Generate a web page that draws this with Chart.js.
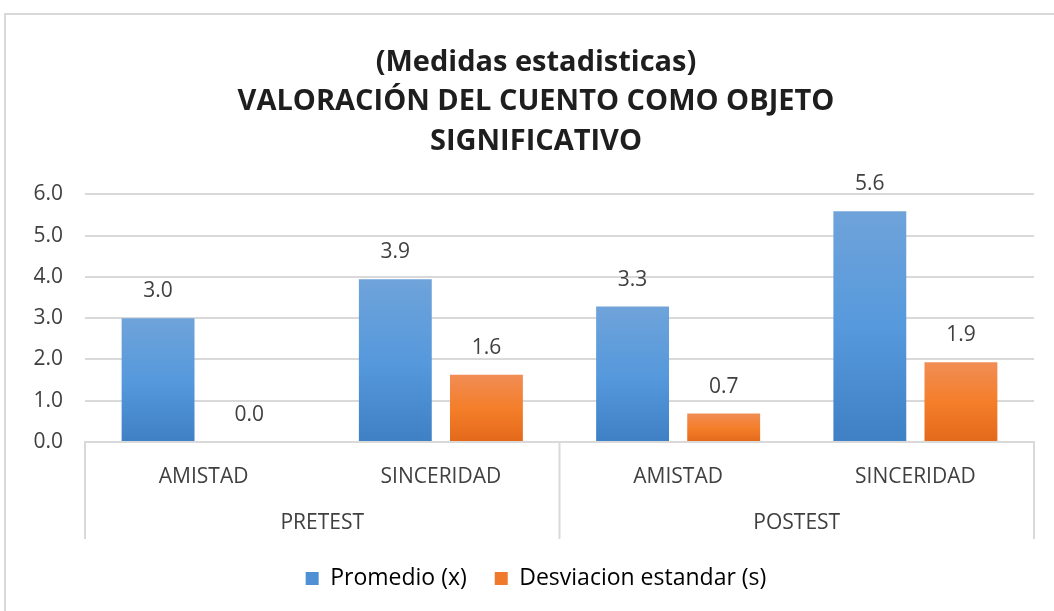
<!DOCTYPE html>
<html>
<head>
<meta charset="utf-8">
<script src="https://cdn.jsdelivr.net/npm/chart.js@4.4.1/dist/chart.umd.min.js"></script>
<style>
    html, body { margin: 0; padding: 0; background: #ffffff; overflow: hidden; }
    #frame {
        position: absolute; left: 4px; top: 13px;
        width: 1062px; height: 640px;
        border: 2px solid #d9d9d9;
    }
    #box { position: absolute; left: 0; top: 0; width: 1060px; height: 596px; }
</style>
</head>
<body>
<div id="frame"><div id="box"><canvas id="statsChart"></canvas></div></div>
<script>
// Chart data
const categories = ['AMISTAD', 'SINCERIDAD', 'AMISTAD', 'SINCERIDAD'];
const groups = ['PRETEST', 'POSTEST'];
const promedio = [3.0, 3.94, 3.28, 5.59];
const desviacion = [0.0, 1.63, 0.69, 1.93];
const yTicks = [0, 1, 2, 3, 4, 5, 6];

const FONT = "'Open Sans', sans-serif";
const TEXT = '#404040';
const LINE = '#d9d9d9';
const SIZE = 21;

/**
 * Per-bar vertical gradient, Excel style
 */
function barGradient(top, mid, bottom) {
    return function(context) {
        const chart = context.chart;
        if (!chart.chartArea || context.parsed == null) return mid;
        const y = chart.scales.y;
        const y0 = y.getPixelForValue(0);
        const y1 = y.getPixelForValue(context.parsed.y);
        if (Math.abs(y0 - y1) < 1) return mid;
        const g = chart.ctx.createLinearGradient(0, y1, 0, y0);
        g.addColorStop(0, top);
        g.addColorStop(0.5, mid);
        g.addColorStop(1, bottom);
        return g;
    };
}

/**
 * Value labels above bars
 */
const valueLabels = {
    id: 'valueLabels',
    afterDatasetsDraw(chart) {
        const ctx = chart.ctx;
        ctx.save();
        ctx.font = SIZE + 'px ' + FONT;
        ctx.fillStyle = TEXT;
        ctx.textAlign = 'center';
        ctx.textBaseline = 'middle';
        chart.data.datasets.forEach((ds, i) => {
            chart.getDatasetMeta(i).data.forEach((bar, j) => {
                ctx.fillText(ds.data[j].toFixed(1), bar.x, bar.y - 27);
            });
        });
        ctx.restore();
    }
};

/**
 * Second level of the category axis (PRETEST / POSTEST)
 */
const groupAxis = {
    id: 'groupAxis',
    afterDraw(chart) {
        const ctx = chart.ctx;
        const area = chart.chartArea;
        const x = chart.scales.x;
        const bottom = area.bottom + 97;
        const mid = (x.getPixelForValue(1) + x.getPixelForValue(2)) / 2;
        ctx.save();
        ctx.strokeStyle = LINE;
        ctx.lineWidth = 2;
        [area.left, mid, area.right].forEach(px => {
            ctx.beginPath();
            ctx.moveTo(px, area.bottom);
            ctx.lineTo(px, bottom);
            ctx.stroke();
        });
        ctx.font = SIZE + 'px ' + FONT;
        ctx.fillStyle = TEXT;
        ctx.textAlign = 'center';
        ctx.textBaseline = 'middle';
        ctx.fillText(groups[0], (area.left + mid) / 2, area.bottom + 81);
        ctx.fillText(groups[1], (mid + area.right) / 2, area.bottom + 81);
        ctx.restore();
    }
};

function createStatsChart() {
    const ctx = document.getElementById('statsChart');
    if (!ctx) return null;

    return new Chart(ctx, {
        type: 'bar',
        data: {
            labels: categories,
            datasets: [{
                label: 'Promedio (x)',
                data: promedio,
                backgroundColor: barGradient('#6fa3da', '#5699dc', '#3f80c4')
            }, {
                label: 'Desviacion estandar (s)',
                data: desviacion,
                backgroundColor: barGradient('#f18d55', '#f47e2a', '#e3691a')
            }]
        },
        options: {
            responsive: true,
            maintainAspectRatio: false,
            animation: false,
            categoryPercentage: 0.768,
            barPercentage: 0.8,
            layout: {
                padding: { left: 0, right: 0, bottom: 11, top: 0 }
            },
            plugins: {
                title: {
                    display: true,
                    text: ['(Medidas estadisticas)', 'VALORACIÓN DEL CUENTO COMO OBJETO', 'SIGNIFICATIVO'],
                    color: '#1e1e1e',
                    font: { family: FONT, size: 29, weight: 'bold', lineHeight: 1.36 },
                    padding: { top: 28, bottom: 33 }
                },
                legend: {
                    position: 'bottom',
                    labels: {
                        color: TEXT,
                        font: { family: FONT, size: 23 },
                        boxWidth: 13,
                        boxHeight: 13,
                        padding: 28,
                        generateLabels(chart) {
                            return chart.data.datasets.map((ds, i) => ({
                                text: ds.label,
                                fillStyle: i === 0 ? '#4f8fd4' : '#ef7a2c',
                                strokeStyle: i === 0 ? '#4f8fd4' : '#ef7a2c',
                                lineWidth: 0,
                                datasetIndex: i
                            }));
                        }
                    }
                },
                tooltip: { enabled: false }
            },
            scales: {
                x: {
                    grid: { display: false, drawTicks: false },
                    border: { display: true, color: LINE, width: 2 },
                    ticks: {
                        color: TEXT,
                        font: { family: FONT, size: SIZE },
                        padding: 22,
                        maxRotation: 0
                    },
                    afterFit(scale) { scale.height = 97; }
                },
                y: {
                    min: 0,
                    max: 6,
                    afterBuildTicks(scale) {
                        scale.ticks = yTicks.map(v => ({ value: v }));
                    },
                    afterFit(scale) { scale.width = 79; },
                    grid: { color: LINE, lineWidth: 2, drawTicks: false },
                    border: { display: false },
                    ticks: {
                        color: TEXT,
                        font: { family: FONT, size: SIZE },
                        padding: 22,
                        callback: v => v.toFixed(1)
                    }
                },
                // empty right-hand axis, only keeps the plot off the right edge
                yRight: {
                    position: 'right',
                    grid: { display: false, drawTicks: false },
                    border: { display: false },
                    ticks: { display: false },
                    afterFit(scale) { scale.width = 32; }
                }
            }
        },
        plugins: [valueLabels, groupAxis]
    });
}

let chart = createStatsChart();
</script>
</body>
</html>
